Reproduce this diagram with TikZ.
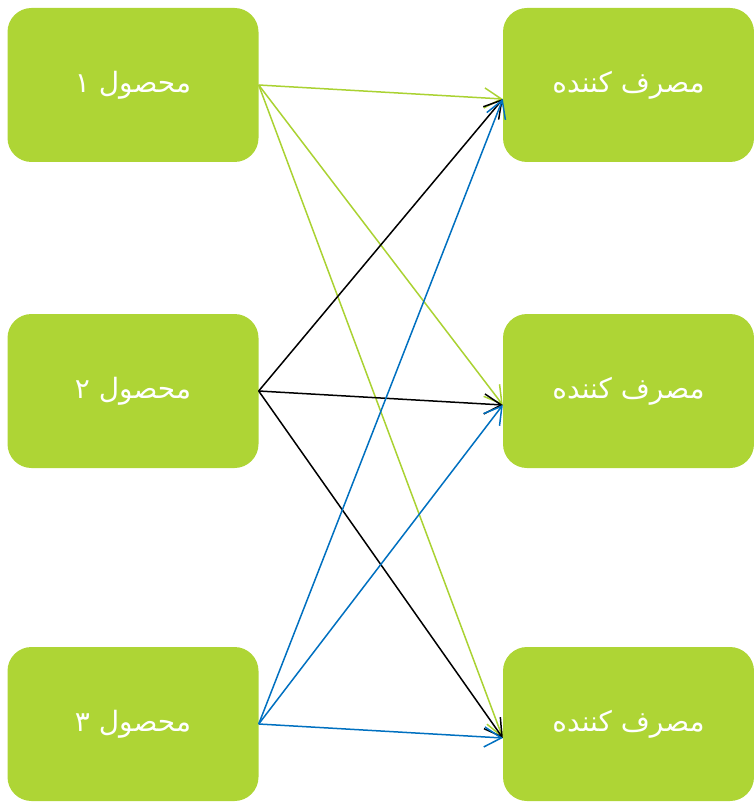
\documentclass[tikz,border=0pt]{standalone}
\usepackage{fontspec}
\TeXXeTstate=1
\newfontfamily\arabicfont[Script=Arabic]{DejaVu Sans}
\usetikzlibrary{arrows.meta}
\definecolor{boxgreen}{RGB}{174,213,53}
\definecolor{lgreen}{RGB}{170,210,50}
\definecolor{lblue}{RGB}{0,112,192}
\begin{document}
\begin{tikzpicture}[x=1pt,y=-1pt,
  box/.style={fill=boxgreen, rounded corners=24pt, minimum width=251pt, minimum height=154pt, inner sep=0pt, text=white, font=\arabicfont\fontsize{28}{32}\selectfont},
  link/.style={line width=1.5pt, -{Straight Barb[length=17pt,width=20pt]}},
  glink/.style={link, draw=lgreen},
  klink/.style={link, draw=black},
  blink/.style={link, draw=lblue}]
\useasboundingbox (0,0) rectangle (753,802);
\node[box] (p1) at (133,85) {\beginR محصول ۱\endR};
\node[box] (p2) at (133,391) {\beginR محصول ۲\endR};
\node[box] (p3) at (133,724) {\beginR محصول ۳\endR};
\node[box] (c1) at (628.5,85) {\beginR مصرف کننده\endR};
\node[box] (c2) at (628.5,391) {\beginR مصرف کننده\endR};
\node[box] (c3) at (628.5,724) {\beginR مصرف کننده\endR};
\draw[glink] (p1.east) -- ([yshift=-14pt]c1.west);
\draw[glink] (p1.east) -- ([yshift=-14pt]c2.west);
\draw[glink] (p1.east) -- ([yshift=-14pt]c3.west);
\draw[klink] (p2.east) -- ([yshift=-14pt]c1.west);
\draw[klink] (p2.east) -- ([yshift=-14pt]c2.west);
\draw[klink] (p2.east) -- ([yshift=-14pt]c3.west);
\draw[blink] (p3.east) -- ([yshift=-14pt]c1.west);
\draw[blink] (p3.east) -- ([yshift=-14pt]c2.west);
\draw[blink] (p3.east) -- ([yshift=-14pt]c3.west);
\end{tikzpicture}
\end{document}
